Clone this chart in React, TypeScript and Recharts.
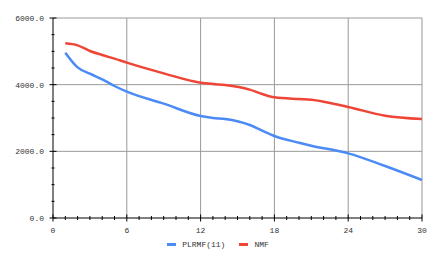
import { Legend, Line, LineChart, ReferenceLine, XAxis, YAxis } from "recharts";

const steps = [1, 2, 3, 4, 5, 6, 9, 12, 13, 14, 16, 17, 18, 20, 21, 24, 27, 30];
const plrmf = [4960, 4520, 4330, 4160, 3960, 3790, 3430, 3060, 3000, 2970, 2790, 2620, 2460, 2260, 2170, 1940, 1560, 1140];
const nmf = [5240, 5180, 5010, 4890, 4780, 4660, 4340, 4060, 4020, 3990, 3850, 3720, 3620, 3570, 3550, 3330, 3070, 2970];

const xTicks = [0, 1, 2, 3, 4, 5, 6, 7, 8, 9, 10, 11, 12, 13, 14, 15, 16, 17, 18, 19, 20, 21, 22, 23, 24, 25, 26, 27, 28, 29, 30];
const xLabels = [0, 6, 12, 18, 24, 30];
const yTicks = [0, 500, 1000, 1500, 2000, 2500, 3000, 3500, 4000, 4500, 5000, 5500, 6000];
const yLabels = [0, 2000, 4000, 6000];
const gridX = [6, 12, 18, 24, 30];
const gridY = [2000, 4000, 6000];

const data = steps.map((s, i) => ({ step: s, plrmf: plrmf[i], nmf: nmf[i] }));

const BLUE = "#4c8bf5";
const RED = "#ef4536";
const FONT = "'Liberation Mono', monospace";

function XTick(props: any) {
  const { x, y, payload } = props;
  const major = xLabels.includes(payload.value);
  const axisY = y - 8;
  const len = major ? 3.5 : 2;
  return (
    <g>
      <line x1={x} x2={x} y1={axisY - len} y2={axisY + len} stroke="#000" />
      {major && (
        <text x={x} y={y} dy={7} textAnchor="middle" fontSize={8} fontFamily={FONT} fill="#333">
          {payload.value}
        </text>
      )}
    </g>
  );
}

function YTick(props: any) {
  const { x, y, payload } = props;
  const major = yLabels.includes(payload.value);
  const axisX = x + 9;
  const len = major ? 3.5 : 1.5;
  return (
    <g>
      <line x1={axisX - len} x2={axisX + len} y1={y} y2={y} stroke="#000" />
      {major && (
        <text x={x} y={y} dy={3} textAnchor="end" fontSize={8} fontFamily={FONT} fill="#333">
          {payload.value.toFixed(1)}
        </text>
      )}
    </g>
  );
}

function LegendContent() {
  const items = [
    { name: "PLRMF(11)", color: BLUE },
    { name: "NMF", color: RED },
  ];
  return (
    <div style={{ display: "flex", justifyContent: "center", gap: 14, fontFamily: FONT, fontSize: 8, color: "#333", paddingLeft: 6 }}>
      {items.map((it) => (
        <div key={it.name} style={{ display: "flex", alignItems: "center" }}>
          <span style={{ display: "inline-block", width: 9, height: 3, background: it.color, marginRight: 6 }} />
          {it.name}
        </div>
      ))}
    </div>
  );
}

export default function App() {
  return (
    <LineChart width={420} height={262} data={data} margin={{ top: 10, right: 6, left: 0, bottom: 10 }}>
      {gridX.map((g) => (
        <ReferenceLine key={"x" + g} x={g} stroke="#999" />
      ))}
      {gridY.map((g) => (
        <ReferenceLine key={"y" + g} y={g} stroke="#999" />
      ))}
      <XAxis
        dataKey="step"
        type="number"
        domain={[0, 30]}
        ticks={xTicks}
        interval={0}
        tickSize={0}
        tickMargin={8}
        height={22}
        axisLine={{ stroke: "#000" }}
        tick={<XTick />}
      />
      <YAxis
        type="number"
        domain={[0, 6000]}
        ticks={yTicks}
        interval={0}
        width={45}
        tickSize={0}
        tickMargin={9}
        axisLine={{ stroke: "#000" }}
        tick={<YTick />}
      />
      <Legend verticalAlign="bottom" height={20} content={<LegendContent />} />
      <Line type="monotone" dataKey="plrmf" name="PLRMF(11)" stroke={BLUE} strokeWidth={2.5} dot={false} isAnimationActive={false} />
      <Line type="monotone" dataKey="nmf" name="NMF" stroke={RED} strokeWidth={2.5} dot={false} isAnimationActive={false} />
    </LineChart>
  );
}
